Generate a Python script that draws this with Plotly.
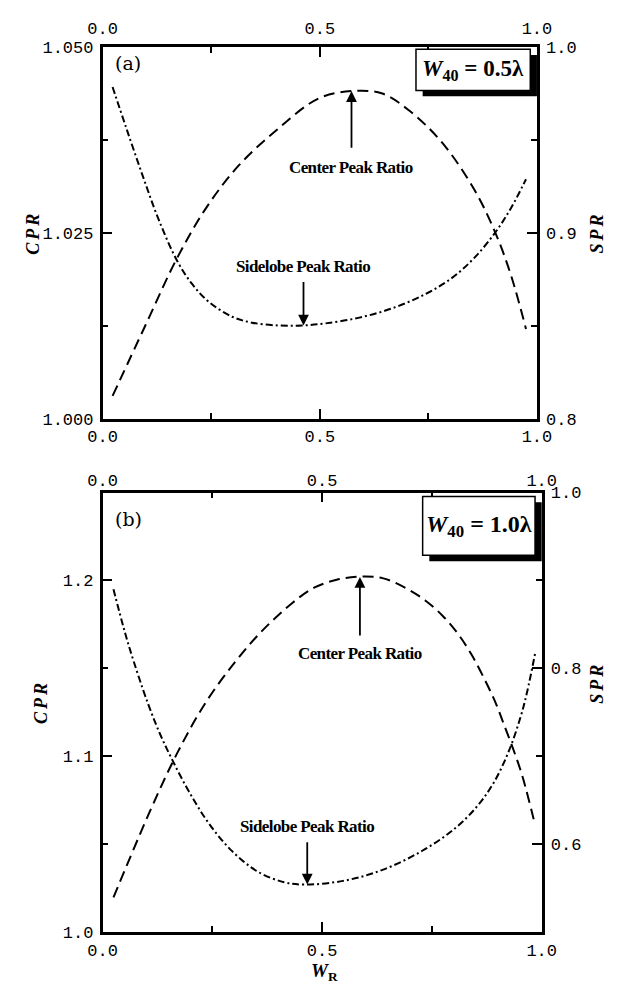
import plotly.graph_objects as go

# ---- panel (a): W40 = 0.5 lambda ----
wr_a_cpr = [0.0229, 0.0994, 0.172, 0.2408, 0.3135, 0.4014, 0.4969, 0.5734, 0.6422,
            0.7034, 0.7798, 0.8563, 0.906, 0.9404, 0.9748]
cpr_a = [1.0031, 1.0127, 1.0217, 1.0286, 1.0341, 1.0389, 1.0431, 1.0441, 1.0438,
         1.0416, 1.0373, 1.0308, 1.0248, 1.0193, 1.0121]

wr_a_spr = [0.0229, 0.0535, 0.0917, 0.130, 0.172, 0.2064, 0.2446, 0.2982, 0.344, 0.4052,
            0.4587, 0.5122, 0.5887, 0.6651, 0.7416, 0.8028, 0.8563, 0.906, 0.9404, 0.9748]
spr_a = [0.9786, 0.9572, 0.9312, 0.9067, 0.8849, 0.8725, 0.8630, 0.8550, 0.8518, 0.8503,
         0.8503, 0.8514, 0.8544, 0.8594, 0.8670, 0.8756, 0.8868, 0.9010, 0.9135, 0.9290]

# ---- panel (b): W40 = 1.0 lambda ----
wr_b_cpr = [0.0247, 0.1105, 0.1704, 0.2339, 0.3027, 0.3648, 0.4321, 0.4805, 0.5330,
            0.5852, 0.6374, 0.6899, 0.7348, 0.7758, 0.8110, 0.8408, 0.8693, 0.8953,
            0.9155, 0.9379, 0.9567, 0.9850]
cpr_b = [1.0197, 1.0702, 1.1020, 1.1302, 1.1539, 1.1717, 1.1872, 1.1957, 1.2004,
         1.2022, 1.2013, 1.1957, 1.1886, 1.1795, 1.1690, 1.1575, 1.1440, 1.1302,
         1.1170, 1.1021, 1.0880, 1.0608]

wr_b_spr = [0.0247, 0.0433, 0.0621, 0.1031, 0.1330, 0.1592, 0.1966, 0.2415, 0.2937,
            0.3536, 0.4132, 0.4581, 0.5478, 0.6374, 0.7271, 0.8020, 0.8543, 0.8917,
            0.9253, 0.9513, 0.9664, 0.9850]
spr_b = [0.8899, 0.8545, 0.8216, 0.7601, 0.7227, 0.6952, 0.6597, 0.6238, 0.5925,
         0.5685, 0.5566, 0.5539, 0.5581, 0.5706, 0.5921, 0.6176, 0.6438, 0.6707,
         0.7060, 0.7437, 0.7724, 0.8170]

# tick labels
x_ticks = [0.0, 0.5, 1.0]
x_ticktext = ["0.0", "0.5", "1.0"]
cpr_a_ticks = [1.000, 1.025, 1.050]
cpr_a_text = ["1.000", "1.025", "1.050"]
spr_a_ticks = [0.8, 0.9, 1.0]
spr_a_text = ["0.8", "0.9", "1.0"]
cpr_b_ticks = [1.0, 1.1, 1.2]
cpr_b_text = ["1.0", "1.1", "1.2"]
spr_b_ticks = [0.6, 0.8, 1.0]
spr_b_text = ["0.6", "0.8", "1.0"]

W, H = 631, 991
TICK_FONT = dict(family="Liberation Mono", size=17, color="black")
SERIF = "Liberation Serif"
DASH = "11px,6px"
DASHDOT = "7px,3px,2px,3px"


def px_x(p):
    return p / W


def px_y(p):
    return 1 - p / H


fig = go.Figure()


def curve(x, y, xa, ya, dash):
    fig.add_trace(go.Scatter(x=x, y=y, xaxis=xa, yaxis=ya, mode="lines",
                             line=dict(color="black", width=2, dash=dash,
                                       shape="spline", smoothing=1.0),
                             showlegend=False, hoverinfo="skip"))


curve(wr_a_cpr, cpr_a, "x", "y", DASH)
curve(wr_a_spr, spr_a, "x", "y2", DASHDOT)
curve(wr_b_cpr, cpr_b, "x3", "y3", DASH)
curve(wr_b_spr, spr_b, "x3", "y4", DASHDOT)

# empty traces so the top axes get drawn
fig.add_trace(go.Scatter(x=[], y=[], xaxis="x2", yaxis="y", showlegend=False))
fig.add_trace(go.Scatter(x=[], y=[], xaxis="x4", yaxis="y3", showlegend=False))

dom_a_x = [px_x(92), px_x(548)]
dom_a_y = [px_y(419), px_y(40)]
dom_b_x = [px_x(92), px_x(553)]
dom_b_y = [px_y(942), px_y(494)]

axis_common = dict(showline=True, linecolor="black", linewidth=2.5, showgrid=False,
                   zeroline=False, ticks="inside", ticklen=10, tickwidth=2,
                   tickcolor="black", tickfont=TICK_FONT)


def xax(domain, anchor, side, overlay=None, standoff=0):
    d = dict(axis_common, domain=domain, anchor=anchor, side=side, range=[0, 1],
             tickmode="array", tickvals=x_ticks, ticktext=x_ticktext,
             ticklabelstandoff=standoff,
             minor=dict(tickvals=[0.25, 0.75], ticks="inside", ticklen=6,
                        tickwidth=1.5, tickcolor="black"))
    if overlay:
        d["overlaying"] = overlay
    return d


def yax(domain, anchor, side, rng, vals, text, minor_vals, overlay=None):
    d = dict(axis_common, domain=domain, anchor=anchor, side=side, range=rng,
             tickmode="array", tickvals=vals, ticktext=text, ticklabelstandoff=3,
             minor=dict(tickvals=minor_vals, ticks="inside", ticklen=6,
                        tickwidth=1.5, tickcolor="black"))
    if overlay:
        d["overlaying"] = overlay
    return d


fig.update_layout(
    width=W, height=H,
    margin=dict(l=0, r=0, t=0, b=0),
    paper_bgcolor="white", plot_bgcolor="white",
    xaxis=xax(dom_a_x, "y", "bottom"),
    xaxis2=xax(dom_a_x, "y", "top", overlay="x", standoff=4),
    yaxis=yax(dom_a_y, "x", "left", [1.0, 1.05], cpr_a_ticks, cpr_a_text,
              [1.0125, 1.0375]),
    yaxis2=yax(dom_a_y, "x", "right", [0.8, 1.0], spr_a_ticks, spr_a_text,
               [0.85, 0.95], overlay="y"),
    xaxis3=xax(dom_b_x, "y3", "bottom", standoff=1),
    xaxis4=xax(dom_b_x, "y3", "top", overlay="x3", standoff=-3),
    yaxis3=yax(dom_b_y, "x3", "left", [1.0, 1.25], cpr_b_ticks, cpr_b_text,
               [1.05, 1.15]),
    yaxis4=yax(dom_b_y, "x3", "right", [0.5, 1.0], spr_b_ticks, spr_b_text,
               [0.7, 0.9], overlay="y3"),
)

ann = []
LABEL_FONT = dict(family=SERIF, size=17, color="black")


def label(x, y, text, xref, yref, font=LABEL_FONT, angle=0):
    ann.append(dict(x=x, y=y, xref=xref, yref=yref, text=text, showarrow=False,
                    font=font, textangle=angle, xanchor="center", yanchor="middle"))


def pointer(text, x_tip, y_tip, y_text, xref, yref, gap):
    # text placed straight above/below the tip, arrow drawn from the text to the curve
    ann.append(dict(x=x_tip, y=y_tip, ax=x_tip, ay=y_text, xref=xref, yref=yref,
                    axref=xref, ayref=yref, text=text, font=LABEL_FONT,
                    showarrow=True, arrowhead=2, arrowsize=1.2, arrowwidth=1.8,
                    arrowcolor="black", standoff=0, startstandoff=gap))


PEAK_TXT = "<span style='letter-spacing:-0.6px'><b>Center Peak Ratio</b></span>"
SIDE_TXT = "<span style='letter-spacing:-0.6px'><b>Sidelobe Peak Ratio</b></span>"

# panel (a)
pointer(PEAK_TXT, 0.573, 1.0441, 1.0338, "x", "y", 9)
pointer(SIDE_TXT, 0.4625, 0.8503, 0.8818, "x", "y2", 4)

# panel (b)
pointer(PEAK_TXT, 0.586, 1.2020, 1.1584, "x3", "y3", 7)
pointer(SIDE_TXT, 0.466, 0.5539, 0.6202, "x3", "y4", 5)

# panel letters
PANEL_FONT = dict(family="DejaVu Serif", size=19, color="black")
label(px_x(119), px_y(56), "(a)", "paper", "paper", font=PANEL_FONT)
label(px_x(119), px_y(521), "(b)", "paper", "paper", font=PANEL_FONT)

# axis titles
AX_FONT = dict(family=SERIF, size=18, color="black")
CPR_TXT = "<span style='letter-spacing:3px'><b><i>CPR</i></b></span>"
SPR_TXT = "<span style='letter-spacing:3px'><b><i>SPR</i></b></span>"
label(px_x(18), px_y(229), CPR_TXT, "paper", "paper", font=AX_FONT, angle=-90)
label(px_x(611), px_y(229), SPR_TXT, "paper", "paper", font=AX_FONT, angle=-90)
label(px_x(28), px_y(708), CPR_TXT, "paper", "paper", font=AX_FONT, angle=-90)
label(px_x(611), px_y(688), SPR_TXT, "paper", "paper", font=AX_FONT, angle=-90)
label(px_x(325), px_y(983), "<b><i>W</i><sub>R</sub></b>", "paper", "paper",
      font=dict(family=SERIF, size=19, color="black"))

# boxed W40 labels with drop shadow
shapes = []


def boxed(x0, y0, x1, y1, x_edge, text, size):
    shapes.append(dict(type="rect", xref="paper", yref="paper",
                       x0=px_x(x0 + 7), x1=px_x(x_edge), y0=px_y(y1 + 6), y1=px_y(y0 + 6),
                       fillcolor="black", line=dict(width=0)))
    shapes.append(dict(type="rect", xref="paper", yref="paper",
                       x0=px_x(x0), x1=px_x(x1), y0=px_y(y1), y1=px_y(y0),
                       fillcolor="white", line=dict(color="black", width=1.5)))
    label(px_x((x0 + x1) / 2), px_y((y0 + y1) / 2), text, "paper", "paper",
          font=dict(family=SERIF, size=size, color="black"))


boxed(421, 42, 541, 84, 548, "<b><i>W</i><sub>40</sub> = 0.5λ</b>", 23)
boxed(428, 498, 546, 558, 553, "<b><i>W</i><sub>40</sub> = 1.0λ</b>", 24)

fig.update_layout(annotations=ann, shapes=shapes)

fig.write_html("out.html")
